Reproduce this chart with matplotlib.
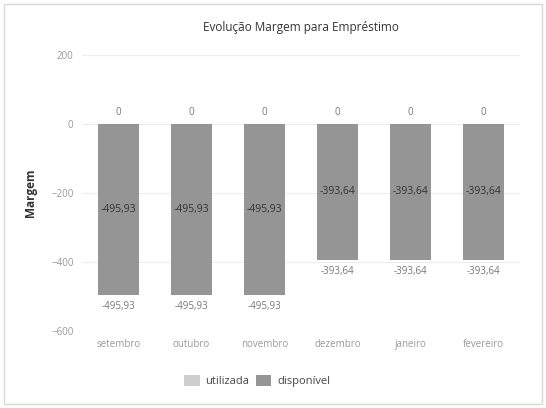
import matplotlib
matplotlib.use("Agg")
import matplotlib.pyplot as plt
from matplotlib.patches import Rectangle

plt.rcParams['font.family'] = ['Open Sans', 'DejaVu Sans']

meses = ['setembro', 'outubro', 'novembro', 'dezembro', 'janeiro', 'fevereiro']
utilizada = [0, 0, 0, 0, 0, 0]
disponivel = [-495.93, -495.93, -495.93, -393.64, -393.64, -393.64]
yticks = [200, 0, -200, -400, -600]

def fmt(v):
    return f'{v:.2f}'.replace('.', ',')

fig = plt.figure(figsize=(5.46, 4.08), dpi=100)
ax = fig.add_axes([0.15, 0.189, 0.802, 0.676])

fig.patches.append(Rectangle((0.008, 0.01), 0.984, 0.98, transform=fig.transFigure,
                             fill=False, edgecolor='#d8d8d8', linewidth=1))

x = range(len(meses))
b1 = ax.bar(x, disponivel, width=0.57, color='#959595', label='disponível', zorder=2)
b2 = ax.bar(x, utilizada, width=0.57, color='#cfcfcf', label='utilizada', zorder=2)

for i, v in enumerate(disponivel):
    ax.text(i, v / 2, fmt(v), ha='center', va='center', fontsize=7.5, color='#333333', zorder=3)
    ax.text(i, v - 18, fmt(v), ha='center', va='top', fontsize=7, color='#777777')
for i, v in enumerate(utilizada):
    ax.text(i, v + 18, str(v), ha='center', va='bottom', fontsize=7, color='#777777')

ax.set_ylim(-600, 200)
ax.set_xlim(-0.5, len(meses) - 0.5)
ax.set_yticks(yticks)
ax.set_xticks(list(x))
ax.set_xticklabels(meses)
ax.tick_params(length=0, labelsize=7, colors='#999999', pad=6)
ax.grid(axis='y', color='#ececec', linewidth=0.8, zorder=0)
for s in ax.spines.values():
    s.set_visible(False)

ax.set_title('Evolução Margem para Empréstimo', fontsize=8.5, color='#333333', pad=17)
ax.set_ylabel('Margem', fontsize=8.5, fontweight='bold', color='#333333', labelpad=10)

handles = [b2, b1]
ax.legend(handles, ['utilizada', 'disponível'], loc='upper center', bbox_to_anchor=(0.4, -0.125),
          ncol=2, frameon=False, fontsize=8, handlelength=1.4, handleheight=1.1,
          handletextpad=0.5, columnspacing=0.6, labelcolor='#444444')

fig.savefig('out.png', dpi=100, facecolor='white')
